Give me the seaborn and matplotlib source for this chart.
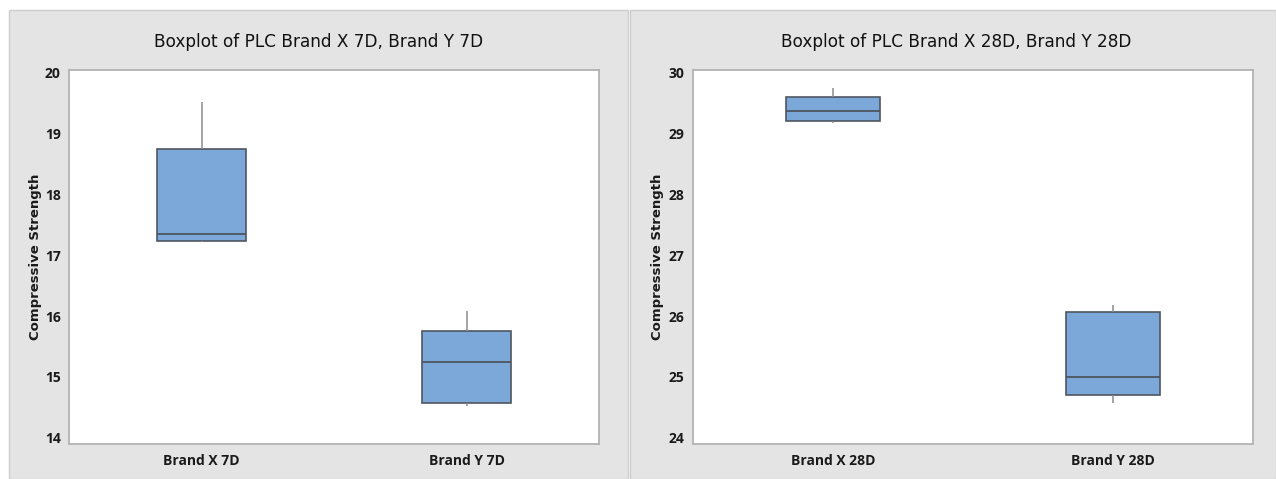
import numpy as np
import pandas as pd
import matplotlib
matplotlib.use("Agg")
import matplotlib.pyplot as plt
from matplotlib.patches import Rectangle
import seaborn as sns

# Five-number summaries (min, Q1, median, Q3, max) per sample
brand_x_7d = [17.21, 17.23, 17.34, 18.75, 19.52]
brand_y_7d = [14.53, 14.57, 15.25, 15.76, 16.09]
brand_x_28d = [29.17, 29.20, 29.36, 29.59, 29.75]
brand_y_28d = [24.58, 24.71, 25.00, 26.07, 26.19]

labels_7d = ["Brand X 7D", "Brand Y 7D"]
labels_28d = ["Brand X 28D", "Brand Y 28D"]
titles = ["Boxplot of PLC Brand X 7D, Brand Y 7D", "Boxplot of PLC Brand X 28D, Brand Y 28D"]
yticks_7d = [14, 15, 16, 17, 18, 19, 20]
yticks_28d = [24, 25, 26, 27, 28, 29, 30]
ylabel = "Compressive Strength"

sns.set_theme(style="white")
plt.rcParams["font.family"] = ["DejaVu Sans"]
tick_family = ["Open Sans", "DejaVu Sans"]

W, H = 1276, 479
fig = plt.figure(figsize=(W / 100, H / 100), dpi=100, facecolor="white")

panel_bg = "#e4e4e4"
panel_edge = "#cdcdcd"
# gray panel backgrounds behind each chart
for x0, x1 in [(9, 628), (630, 1276)]:
    fig.patches.append(Rectangle((x0 / W, 0), (x1 - x0) / W, 1 - 10 / H,
                                 transform=fig.transFigure, facecolor=panel_bg,
                                 edgecolor=panel_edge, linewidth=1, zorder=-5))

box_fill = "#7ba7d9"
box_line = "#4e5660"
whisk_line = "#8c8c8c"

def draw(axrect, a, b, cats, yt, title, title_x, ylab_x):
    ax = fig.add_axes(axrect)
    ax.set_zorder(1)
    df = pd.DataFrame({"Sample": [cats[0]] * len(a) + [cats[1]] * len(b),
                       "Value": list(a) + list(b)})
    sns.boxplot(data=df, x="Sample", y="Value", ax=ax, order=cats,
                color=box_fill, saturation=1, width=0.335, whis=np.inf,
                linecolor=box_line, linewidth=1.2, showcaps=False,
                whiskerprops=dict(color=whisk_line, linewidth=1.1),
                medianprops=dict(color=box_line, linewidth=1.3))
    ax.set_xlim(-0.5, 1.5)
    ax.set_ylim(yt[0] - 0.10, yt[-1] + 0.04)
    ax.set_yticks(yt)
    ax.set_yticklabels([str(v) for v in yt])
    ax.set_xlabel("")
    ax.set_ylabel("")
    ax.set_facecolor("white")
    for s in ax.spines.values():
        s.set_color("#b2b2b2")
        s.set_linewidth(1.3)
    ax.tick_params(axis="both", which="major", length=3, width=0.8,
                   color="#a0a0a0", pad=3, labelcolor="#1a1a1a")
    ax.tick_params(axis="y", labelsize=10)
    ax.tick_params(axis="x", labelsize=10, pad=4)
    for t in ax.get_xticklabels() + ax.get_yticklabels():
        t.set_fontweight("bold")
        t.set_family(tick_family)
    fig.text(title_x, 1 - 47 / H, title, ha="center", va="baseline",
             fontsize=12.2, color="#111111")
    fig.text(ylab_x, 1 - 257 / H, ylabel, rotation=90, ha="center", va="center",
             fontsize=9.5, fontweight="bold", color="#1a1a1a",
             family=["DejaVu Sans"])
    return ax

bottom = (H - 444) / H
height = (444 - 70) / H
draw([69 / W, bottom, 530 / W, height], brand_x_7d, brand_y_7d, labels_7d,
     yticks_7d, titles[0], 318.5 / W, 36 / W)
draw([693 / W, bottom, 560 / W, height], brand_x_28d, brand_y_28d, labels_28d,
     yticks_28d, titles[1], 956 / W, 658 / W)

fig.savefig("out.png", dpi=100, facecolor="white")
